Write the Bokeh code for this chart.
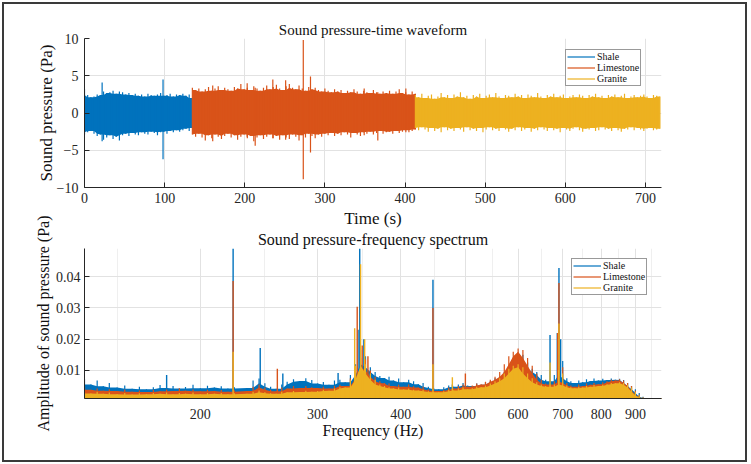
import numpy as np
from bokeh.plotting import figure
from bokeh.layouts import column
from bokeh.models import FixedTicker, PrintfTickFormatter, Legend, LegendItem
from bokeh.embed import file_html
from bokeh.resources import INLINE

SERIF = "Liberation Serif"
INK = "#262626"
C_SHALE = "#0072BD"
C_LIME = "#D95319"
C_GRAN = "#EDB120"

# ---------------- waveform envelopes (Pa), sampled evenly over each rock's interval ----------------
shale_span = (0.0, 134.6)
shale_hi = [3.2, 2.4, 2.1, 2.2, 2.5, 2.4, 2.9, 2.7, 2.8, 3.0, 2.6, 2.9, 2.8, 2.5, 2.7, 2.4, 2.6, 2.3,
            2.5, 2.2, 2.6, 2.4, 2.3, 2.5, 2.7, 2.3, 2.4, 2.6, 2.2, 2.5, 2.4, 2.6, 2.3, 2.5, 2.0]
shale_lo = [-2.9, -2.6, -2.4, -2.8, -3.1, -2.9, -3.6, -3.3, -3.0, -3.5, -3.2, -3.7, -3.0, -2.8, -3.1,
            -2.7, -2.9, -3.0, -2.6, -2.8, -2.9, -2.5, -2.7, -3.0, -2.6, -2.5, -2.8, -2.4, -2.6, -2.3,
            -2.5, -2.3, -2.1, -2.4, -2.0]

lime_span = (134.6, 412.9)
lime_hi = [3.4, 3.1, 3.3, 2.9, 3.2, 3.5, 3.0, 3.3, 3.6, 3.1,
           3.4, 3.2, 3.0, 3.5, 3.3, 3.9, 3.2, 3.4, 3.1, 3.6,
           3.3, 3.0, 3.4, 3.7, 3.2, 3.5, 3.8, 3.3, 3.1, 3.6,
           3.9, 3.4, 3.2, 3.7, 3.3, 3.0, 3.5, 3.2, 3.4, 3.1,
           2.9, 3.3, 3.0, 2.8, 3.2, 2.9, 3.1, 2.7, 3.0, 2.8,
           3.2, 2.9, 2.6, 3.0, 2.8, 2.7, 3.1, 2.8, 2.6, 2.9,
           2.7, 3.0, 2.6, 2.9, 3.2, 2.7, 2.8, 2.5, 2.9, 2.6]
lime_lo = [-2.9, -3.2, -2.8, -3.3, -3.7, -3.0, -3.4, -2.9, -3.2, -3.5,
           -3.1, -2.8, -3.3, -3.0, -3.6, -3.2, -2.9, -3.4, -3.1, -3.8,
           -3.3, -3.0, -3.5, -3.2, -2.9, -3.4, -3.1, -3.6, -3.0, -3.3,
           -3.5, -2.9, -3.2, -3.7, -3.0, -3.3, -2.8, -3.1, -3.4, -2.9,
           -3.2, -2.8, -3.0, -2.7, -3.1, -2.8, -3.0, -2.6, -2.9, -3.3,
           -2.7, -2.9, -3.1, -2.6, -2.8, -2.5, -2.9, -2.7, -2.4, -2.8,
           -2.6, -2.5, -2.8, -2.4, -2.7, -2.5, -2.3, -2.6, -2.4, -2.2]

gran_span = (412.9, 718.0)
gran_hi = [2.4, 2.1, 2.6, 2.0, 2.3, 2.5, 1.9, 2.2, 2.7, 2.1,
           2.4, 2.0, 2.5, 2.2, 2.8, 2.1, 2.3, 1.9, 2.4, 2.2,
           2.6, 2.0, 2.3, 2.5, 2.1, 2.7, 2.2, 2.0, 2.4, 2.3,
           2.1, 2.6, 2.2, 2.4, 2.0, 2.5, 2.3, 2.1, 2.7, 2.2,
           2.0, 2.4, 2.2, 2.6, 2.1, 2.3, 2.5, 2.0, 2.2, 2.4,
           2.1, 2.5, 2.3, 2.0, 2.4, 2.2, 2.6, 2.1, 2.3, 2.0,
           2.4, 2.2, 2.5, 2.1, 2.3, 2.6, 2.0, 2.2, 2.4, 2.1,
           2.3, 2.5, 2.2, 2.0, 2.4, 2.3, 2.2]
gran_lo = [-2.0, -2.3, -1.9, -2.2, -2.5, -2.0, -2.4, -2.1, -2.6, -1.9,
           -2.3, -2.1, -2.4, -2.0, -2.2, -2.5, -1.9, -2.3, -2.1, -2.4,
           -2.0, -2.6, -2.2, -1.9, -2.3, -2.1, -2.4, -2.0, -2.2, -2.5,
           -2.1, -2.3, -1.9, -2.4, -2.2, -2.0, -2.5, -2.1, -2.3, -1.9,
           -2.2, -2.4, -2.0, -2.3, -2.1, -2.6, -2.0, -2.2, -2.4, -2.1,
           -1.9, -2.3, -2.5, -2.1, -2.2, -2.0, -2.4, -2.3, -1.9, -2.2,
           -2.1, -2.4, -2.0, -2.3, -2.5, -2.1, -2.2, -1.9, -2.3, -2.0,
           -2.2, -2.4, -2.1, -2.0, -2.3, -2.2, -2.1]

# isolated impulses (time s, positive peak, negative peak)
shale_spk_t = [22, 98]
shale_spk_hi = [4.1, 4.5]
shale_spk_lo = [-3.8, -6.2]
lime_spk_t = [160, 203, 213, 235, 251, 273, 282, 349, 366, 401]
lime_spk_hi = [3.7, 4.0, 3.4, 4.5, 4.4, 9.8, 4.9, 3.3, 2.8, 3.3]
lime_spk_lo = [-3.8, -3.2, -4.4, -3.4, -3.6, -8.9, -5.3, -3.0, -3.7, -2.6]

# ---------------- amplitude spectra (mPa) on a shared frequency grid (Hz) ----------------
freq = [134, 137, 140, 143, 146, 150, 154, 158, 162, 166,
        170, 174, 178, 182, 186, 190, 195, 200, 205, 210,
        215, 220, 225, 235, 240, 245, 250, 255, 260, 265,
        270, 276, 282, 288, 294, 300, 306, 312, 318, 324,
        330, 336, 342, 348, 354, 360, 366, 372, 378, 384,
        390, 397, 404, 411, 418, 425, 432, 440, 448, 456,
        464, 472, 480, 488, 496, 504, 512, 520, 528, 536,
        545, 554, 563, 572, 581, 590, 600, 610, 620, 630,
        640, 650, 660, 670, 680, 690, 700, 710, 720, 730,
        740, 750, 760, 770, 780, 792, 804, 816, 828, 840,
        852, 864, 876, 888, 900, 912, 924, 936, 948, 960,
        972, 985]
amp_shale = [7.2, 5.5, 6.8, 4.9, 6.0, 4.5, 5.2, 4.1, 4.8, 4.0,
             4.6, 5.3, 4.4, 5.0, 4.2, 4.7, 5.4, 4.3, 5.1, 4.5,
             4.9, 4.2, 4.6, 4.4, 6.8, 7.4, 5.9, 4.8, 4.1, 5.5,
             6.4, 7.2, 6.6, 7.5, 6.9, 5.8, 6.3, 5.4, 6.8, 7.0,
             6.2, 8.5, 12.0, 16.5, 14.5, 11.0, 9.5, 8.2, 7.6, 8.0,
             6.8, 7.4, 6.2, 7.0, 6.5, 5.6, 6.0, 4.8, 4.4, 4.0,
             4.6, 5.2, 4.8, 5.5, 6.0, 5.2, 5.0, 5.8, 5.4, 6.2,
             6.6, 7.5, 8.0, 9.5, 11.5, 13.0, 14.0, 15.0, 12.5, 10.5,
             9.5, 8.5, 7.0, 6.5, 8.5, 15.0, 13.0, 7.5, 6.5, 6.0,
             6.8, 6.2, 7.2, 6.6, 7.4, 6.8, 7.3, 6.9, 7.4, 7.0,
             7.3, 6.9, 6.0, 5.0, 4.0, 2.8, 1.6, 1.2, 1.1, 1.1,
             1.1, 1.1]
amp_lime = [4.5, 3.8, 4.2, 3.5, 4.0, 3.4, 3.9, 3.2, 3.6, 3.1,
            3.8, 3.3, 3.9, 3.4, 4.3, 3.5, 3.9, 3.3, 3.8, 3.4,
            3.7, 3.2, 3.6, 3.4, 4.8, 5.5, 4.5, 3.8, 3.3, 4.5,
            4.2, 5.0, 4.4, 5.0, 4.6, 4.4, 4.8, 4.2, 5.0, 5.4,
            5.0, 7.5, 11.0, 14.0, 13.5, 10.0, 8.0, 6.5, 6.0, 5.8,
            5.0, 5.4, 4.8, 5.5, 4.9, 4.5, 4.8, 4.0, 3.6, 3.4,
            3.8, 4.5, 4.2, 5.0, 5.5, 4.8, 5.2, 5.8, 5.5, 6.4,
            7.0, 8.0, 9.5, 12.0, 14.5, 16.0, 17.0, 16.5, 14.0, 11.5,
            9.0, 7.0, 5.8, 5.5, 6.5, 12.0, 11.0, 6.0, 5.2, 4.8,
            5.5, 5.0, 5.8, 5.4, 6.0, 5.6, 6.2, 6.5, 7.0, 6.8,
            7.2, 6.8, 6.0, 5.0, 3.5, 2.2, 1.3, 1.1, 1.1, 1.1,
            1.1, 1.1]
amp_gran = [3.0, 2.6, 3.2, 2.5, 2.9, 2.4, 2.8, 2.3, 2.7, 2.4,
            2.8, 2.5, 2.9, 2.4, 2.8, 2.5, 2.9, 2.4, 2.8, 2.5,
            2.8, 2.4, 2.7, 2.5, 3.2, 3.6, 3.0, 2.7, 2.5, 3.2,
            3.0, 3.4, 3.1, 3.5, 3.2, 3.4, 3.8, 3.5, 4.2, 4.6,
            4.5, 7.0, 11.5, 13.0, 12.0, 9.0, 7.0, 5.5, 5.0, 4.6,
            4.2, 4.5, 3.9, 4.2, 3.8, 3.6, 3.8, 3.3, 3.1, 3.0,
            3.3, 3.8, 3.6, 4.2, 4.5, 4.0, 4.3, 4.8, 4.6, 5.2,
            5.8, 6.5, 7.5, 9.0, 10.5, 11.5, 12.0, 11.0, 9.0, 7.5,
            6.2, 5.5, 5.0, 4.8, 5.5, 10.0, 9.0, 5.2, 4.6, 4.3,
            4.8, 4.5, 5.0, 4.8, 5.3, 5.0, 5.4, 5.6, 6.0, 5.9,
            6.2, 6.0, 5.4, 4.5, 3.2, 2.0, 1.3, 1.1, 1.1, 1.1,
            1.1, 1.1]

# narrow tonal peaks (Hz, mPa)
shale_pk_f = [178, 224, 246, 266, 322, 345, 347, 352, 447, 478, 670, 687, 691, 695]
shale_pk_a = [8.5, 49.0, 17.2, 9.0, 9.2, 23.0, 49.0, 20.0, 39.0, 5.5, 21.3, 22.0, 42.8, 20.0]
lime_pk_f = [224, 261, 344, 350, 357, 447, 500, 688, 691]
lime_pk_a = [38.6, 10.5, 30.4, 18.0, 14.5, 30.0, 9.0, 22.0, 38.0]
gran_pk_f = [224, 341, 348, 353, 447, 478, 670, 691]
gran_pk_a = [16.0, 23.5, 44.0, 20.0, 12.0, 7.8, 12.5, 25.0]

time_ticks = [0, 100, 200, 300, 400, 500, 600, 700]
pres_ticks = [-10, -5, 0, 5, 10]
freq_ticks = [200, 300, 400, 500, 600, 700, 800, 900]
freq_minor = [150, 250, 350, 450, 550, 650, 750, 850, 950]
amp_ticks = [0.01, 0.02, 0.03, 0.04]


def neighbour_min(a):
    """Smallest of each sample and its two neighbours: the solid core under the fringe."""
    a = np.asarray(a, dtype=float)
    left = np.r_[a[:1], a[:-1]]
    right = np.r_[a[1:], a[-1:]]
    return np.minimum(np.minimum(a, left), right)


def style(p, title_size, label_size):
    p.outline_line_color = None
    p.background_fill_color = "white"
    p.title.align = "center"
    p.title.text_font = SERIF
    p.title.text_font_style = "normal"
    p.title.text_font_size = title_size
    p.title.text_color = "#111111"
    p.title.standoff = 2
    for ax in (p.xaxis[0], p.yaxis[0]):
        ax.axis_line_color = INK
        ax.axis_line_width = 1
        ax.major_tick_line_color = INK
        ax.major_tick_in = 5
        ax.major_tick_out = 0
        ax.minor_tick_line_color = None
        ax.major_label_text_font = SERIF
        ax.major_label_text_font_size = "14px"
        ax.major_label_text_color = INK
        ax.axis_label_text_font = SERIF
        ax.axis_label_text_font_style = "normal"
        ax.axis_label_text_font_size = label_size
        ax.axis_label_text_color = "#111111"
    p.xgrid.grid_line_color = "#e2e2e2"
    p.ygrid.grid_line_color = "#e2e2e2"


def make_legend(items, loc):
    lg = Legend(items=items, location=loc)
    lg.label_text_font = SERIF
    lg.label_text_font_size = "10px"
    lg.label_text_color = "#111111"
    lg.glyph_width = 28
    lg.glyph_height = 9
    lg.label_height = 9
    lg.label_standoff = 2
    lg.spacing = 0
    lg.padding = 1
    lg.margin = 0
    lg.border_line_color = "#333333"
    lg.border_line_width = 1
    lg.background_fill_color = "white"
    lg.background_fill_alpha = 1
    return lg


# ---------------- time waveform ----------------
p1 = figure(width=741, height=226, x_range=(0, 720), y_range=(-10, 10),
            output_backend="svg", toolbar_location=None,
            min_border_left=80, min_border_right=84, min_border_top=34, min_border_bottom=43,
            title="Sound pressure-time waveform")
style(p1, "15px", "17px")
p1.xaxis.ticker = FixedTicker(ticks=time_ticks)
p1.yaxis.ticker = FixedTicker(ticks=pres_ticks)
p1.xaxis.axis_label = "Time (s)"
p1.yaxis.axis_label = "Sound pressure (Pa)"
p1.xaxis.major_label_standoff = 5
p1.xaxis.axis_label_standoff = 3
p1.yaxis.major_label_standoff = 6
p1.yaxis.axis_label_standoff = -2

legend1 = []
for label, span, hi, lo, st, sh, sl, color in [
        ("Shale", shale_span, shale_hi, shale_lo, shale_spk_t, shale_spk_hi, shale_spk_lo, C_SHALE),
        ("Limestone", lime_span, lime_hi, lime_lo, lime_spk_t, lime_spk_hi, lime_spk_lo, C_LIME),
        ("Granite", gran_span, gran_hi, gran_lo, [], [], [], C_GRAN)]:
    t = np.linspace(span[0], span[1], len(hi))
    core_hi = neighbour_min(hi)
    core_lo = -neighbour_min(-np.asarray(lo))
    p1.varea(x=t, y1=core_lo, y2=core_hi, fill_color=color)
    r = p1.segment(x0=t, y0=lo, x1=t, y1=hi, line_color=color, line_width=1.2)
    if st:
        p1.segment(x0=st, y0=sl, x1=st, y1=sh, line_color=color, line_width=1.2)
    legend1.append(LegendItem(label=label, renderers=[r]))
p1.add_layout(make_legend(legend1, (481, 101)))

# ---------------- frequency spectrum ----------------
# the canvas reaches 20 px up under the waveform panel so the long y label has room
p2 = figure(width=741, height=250, x_axis_type="log", x_range=(134, 985), y_range=(0.001, 0.049),
            output_backend="svg", toolbar_location=None,
            min_border_left=80, min_border_right=83, min_border_top=38, min_border_bottom=62,
            title="Sound pressure-frequency spectrum")
p2.margin = (-20, 0, 0, 0)
p2.border_fill_color = None
style(p2, "16px", "16px")
p2.xaxis.ticker = FixedTicker(ticks=freq_ticks, minor_ticks=freq_minor)
p2.xaxis.formatter = PrintfTickFormatter(format="%d")
p2.yaxis.ticker = FixedTicker(ticks=amp_ticks)
p2.yaxis.formatter = PrintfTickFormatter(format="%.2f")
p2.xaxis.major_tick_in = 0
p2.xgrid.minor_grid_line_color = "#efefef"
p2.xaxis.axis_label = "Frequency (Hz)"
p2.yaxis.axis_label = "Amplitude of sound pressure (Pa)"
p2.xaxis.major_label_standoff = 6
p2.xaxis.axis_label_standoff = 0
p2.yaxis.major_label_standoff = 4
p2.yaxis.axis_label_standoff = 1

legend2 = []
f = np.array(freq, dtype=float)
for label, amp, pf, pa, color in [
        ("Shale", amp_shale, shale_pk_f, shale_pk_a, C_SHALE),
        ("Limestone", amp_lime, lime_pk_f, lime_pk_a, C_LIME),
        ("Granite", amp_gran, gran_pk_f, gran_pk_a, C_GRAN)]:
    a = np.array(amp) * 1e-3
    p2.varea(x=f, y1=0, y2=neighbour_min(a), fill_color=color)
    r = p2.segment(x0=f, y0=0, x1=f, y1=a, line_color=color, line_width=1.2)
    p2.segment(x0=pf, y0=0, x1=pf, y1=np.array(pa) * 1e-3, line_color=color, line_width=1.4)
    legend2.append(LegendItem(label=label, renderers=[r]))
p2.add_layout(make_legend(legend2, (487, 103)))

page = column(p1, p2, styles={"border": "2px solid #3a3a3a", "margin": "2px 0 0 2px"})

with open("out.html", "w") as fh:
    fh.write(file_html(page, INLINE))
